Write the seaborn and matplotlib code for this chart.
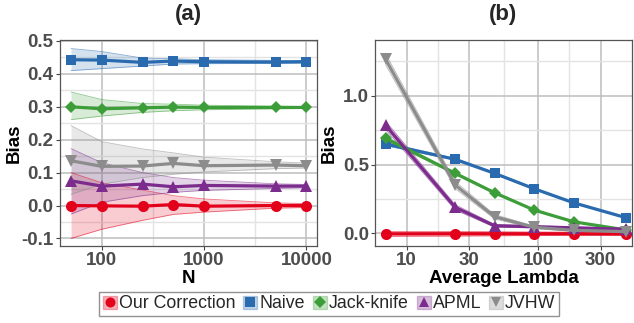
import numpy as np
import pandas as pd
import matplotlib
matplotlib.use("Agg")
import matplotlib.pyplot as plt
import seaborn as sns
from matplotlib.patches import Rectangle
from matplotlib.lines import Line2D

# ---------------- data ----------------
methods = ["Our Correction", "Naive", "Jack-knife", "APML", "JVHW"]
colors = ["#e3001b", "#2a6bb0", "#3d9e39", "#7b2c8c", "#8c8c8c"]
marker_list = ["o", "s", "D", "^", "v"]

# panel (a): bias vs N
n_values = [50, 100, 250, 500, 1000, 5000, 10000]
a_correction = [0.000, -0.001, -0.002, 0.003, -0.002, 0.000, 0.000]
a_correction_lo = [-0.100, -0.072, -0.045, -0.027, -0.020, -0.008, -0.006]
a_correction_hi = [0.100, 0.069, 0.047, 0.030, 0.020, 0.008, 0.006]
a_naive = [0.443, 0.442, 0.435, 0.439, 0.437, 0.436, 0.437]
a_naive_lo = [0.410, 0.416, 0.424, 0.430, 0.431, 0.432, 0.433]
a_naive_hi = [0.477, 0.468, 0.448, 0.446, 0.443, 0.441, 0.441]
a_jack = [0.300, 0.294, 0.297, 0.299, 0.298, 0.298, 0.298]
a_jack_lo = [0.261, 0.272, 0.283, 0.288, 0.291, 0.294, 0.295]
a_jack_hi = [0.345, 0.322, 0.310, 0.308, 0.305, 0.302, 0.301]
a_apml = [0.075, 0.059, 0.065, 0.057, 0.061, 0.059, 0.059]
a_apml_lo = [-0.026, 0.010, 0.030, 0.040, 0.046, 0.052, 0.054]
a_apml_hi = [0.173, 0.130, 0.100, 0.085, 0.077, 0.066, 0.064]
a_jvhw = [0.136, 0.119, 0.120, 0.128, 0.121, 0.123, 0.121]
a_jvhw_lo = [0.034, 0.065, 0.085, 0.095, 0.102, 0.112, 0.114]
a_jvhw_hi = [0.243, 0.194, 0.172, 0.160, 0.147, 0.133, 0.129]

# panel (b): bias vs average lambda
lam_values = [6.9, 23.4, 46.7, 93.7, 187, 472]
b_correction = [-0.004, -0.003, -0.003, -0.003, -0.003, -0.004]
b_correction_lo = [-0.022, -0.020, -0.018, -0.016, -0.015, -0.016]
b_correction_hi = [0.014, 0.014, 0.012, 0.010, 0.009, 0.008]
b_naive = [0.649, 0.538, 0.436, 0.324, 0.222, 0.113]
b_naive_lo = [0.637, 0.532, 0.431, 0.320, 0.219, 0.110]
b_naive_hi = [0.661, 0.544, 0.441, 0.328, 0.225, 0.116]
b_jack = [0.690, 0.436, 0.295, 0.169, 0.084, 0.024]
b_jack_lo = [0.675, 0.428, 0.289, 0.165, 0.081, 0.021]
b_jack_hi = [0.705, 0.444, 0.301, 0.173, 0.087, 0.027]
b_apml = [0.785, 0.189, 0.055, 0.048, 0.040, 0.030]
b_apml_lo = [0.755, 0.170, 0.045, 0.040, 0.033, 0.024]
b_apml_hi = [0.815, 0.208, 0.065, 0.056, 0.047, 0.036]
b_jvhw = [1.265, 0.351, 0.121, 0.044, 0.022, 0.012]
b_jvhw_lo = [1.225, 0.325, 0.105, 0.036, 0.016, 0.008]
b_jvhw_hi = [1.305, 0.377, 0.137, 0.052, 0.028, 0.016]

a_series = {
    "Our Correction": (a_correction, a_correction_lo, a_correction_hi),
    "Naive": (a_naive, a_naive_lo, a_naive_hi),
    "Jack-knife": (a_jack, a_jack_lo, a_jack_hi),
    "APML": (a_apml, a_apml_lo, a_apml_hi),
    "JVHW": (a_jvhw, a_jvhw_lo, a_jvhw_hi),
}
b_series = {
    "Our Correction": (b_correction, b_correction_lo, b_correction_hi),
    "Naive": (b_naive, b_naive_lo, b_naive_hi),
    "Jack-knife": (b_jack, b_jack_lo, b_jack_hi),
    "APML": (b_apml, b_apml_lo, b_apml_hi),
    "JVHW": (b_jvhw, b_jvhw_lo, b_jvhw_hi),
}


def to_long(xs, series):
    rows = []
    for m, (mean, lo, hi) in series.items():
        for x, y, l, h in zip(xs, mean, lo, hi):
            rows.append({"x": x, "bias": y, "lo": l, "hi": h, "method": m})
    return pd.DataFrame(rows)


df_a = to_long(n_values, a_series)
df_b = to_long(lam_values, b_series)

# ---------------- style ----------------
sns.set_theme(style="white")
plt.rcParams["font.family"] = ["Liberation Sans", "DejaVu Sans"]
plt.rcParams["axes.unicode_minus"] = False

palette = dict(zip(methods, colors))
markers = dict(zip(methods, marker_list))
msize = {"o": 8, "s": 7.5, "D": 6.5, "^": 8.5, "v": 8.5}

fig = plt.figure(figsize=(6.34, 3.23), dpi=100)
W, H = 634, 323
ax_a = fig.add_axes([60 / W, (H - 246) / H, 257 / W, 206 / H])
ax_b = fig.add_axes([375 / W, (H - 246) / H, 257 / W, 206 / H])


def draw(ax, df, xs):
    for m in methods:
        sub = df[df.method == m]
        c = palette[m]
        ax.fill_between(sub.x, sub.lo, sub.hi, color=c, alpha=0.2, lw=0, zorder=1)
        ax.plot(sub.x, sub.lo, color=c, alpha=0.55, lw=0.6, zorder=1.5)
        ax.plot(sub.x, sub.hi, color=c, alpha=0.55, lw=0.6, zorder=1.5)
    sns.lineplot(data=df, x="x", y="bias", hue="method", style="method",
                 hue_order=methods, style_order=methods, palette=palette,
                 markers=markers, dashes=False, linewidth=2.3, markersize=8,
                 markeredgewidth=0, legend=False, ax=ax, zorder=3)
    for line in ax.get_lines():
        mk = line.get_marker()
        if mk in msize:
            line.set_markersize(msize[mk])
    ax.set_xscale("log")


draw(ax_a, df_a, n_values)
draw(ax_b, df_b, lam_values)


def style_axes(ax, xmajor, xminor, ymajor, yminor, xlim, ylim, xlabel, title, lblx):
    ax.set_xlim(*xlim)
    ax.set_ylim(*ylim)
    ax.set_xticks(xmajor)
    ax.set_xticklabels([f"{v:g}" for v in xmajor])
    ax.set_xticks(xminor, minor=True)
    ax.set_xticklabels([], minor=True)
    ax.set_yticks(ymajor)
    ax.set_yticklabels([f"{v:.1f}" for v in ymajor])
    ax.set_yticks(yminor, minor=True)
    ax.grid(True, which="major", color="#bdbdbd", lw=1.1, zorder=0)
    ax.grid(True, which="minor", color="#e3e3e3", lw=1.0, zorder=0)
    ax.set_axisbelow(True)
    ax.tick_params(which="major", direction="out", length=3, width=0.8,
                   color="#444444", labelsize=13.5, labelcolor="#4d4d4d",
                   pad=1.5, bottom=True, left=True)
    ax.tick_params(which="minor", length=0)
    for lab in ax.get_xticklabels() + ax.get_yticklabels():
        lab.set_fontweight("bold")
    for sp in ax.spines.values():
        sp.set_visible(True)
        sp.set_color("#555555")
        sp.set_linewidth(0.9)
    ax.set_xlabel(xlabel, fontsize=13.5, fontweight="bold", color="black")
    ax.set_ylabel("Bias", fontsize=13.5, fontweight="bold", color="black")
    ax.xaxis.set_label_coords(0.5, -0.118)
    ax.yaxis.set_label_coords(lblx, 0.5)
    ax.text(0.5, 1.125, title, transform=ax.transAxes, ha="center", va="center",
            fontsize=16, fontweight="bold")


style_axes(ax_a, [100, 1000, 10000], [10 ** 2.5, 10 ** 3.5],
           [-0.1, 0.0, 0.1, 0.2, 0.3, 0.4, 0.5],
           [-0.05, 0.05, 0.15, 0.25, 0.35, 0.45],
           (39, 12700), (-0.123, 0.503), "N", "(a)", -0.145)
style_axes(ax_b, [10, 30, 100, 300], [300 ** 0.5, 3000 ** 0.5, 30000 ** 0.5],
           [0.0, 0.5, 1.0], [0.25, 0.75, 1.25],
           (5.73, 521), (-0.092, 1.405), "Average Lambda", "(b)", -0.145)

# ---------------- legend ----------------
handles = []
for m, c, mk in zip(methods, colors, marker_list):
    box = Rectangle((0, 0), 1, 1, facecolor=c, alpha=0.3, edgecolor=c, lw=1.0)
    mkr = Line2D([], [], color=c, marker=mk, markersize=msize[mk] * 0.9,
                 markeredgewidth=0, linestyle="None")
    handles.append((box, mkr))
leg = fig.legend(handles, methods, loc="center", bbox_to_anchor=(329 / W, 1 - 304 / H),
                 ncol=5, frameon=True, fancybox=False, fontsize=12.8,
                 handlelength=0.8, handleheight=0.8, handletextpad=0.1,
                 columnspacing=0.45, borderpad=0.2, borderaxespad=0)
leg.get_frame().set_edgecolor("#777777")
leg.get_frame().set_linewidth(1.0)

fig.savefig("out.png", dpi=100)
